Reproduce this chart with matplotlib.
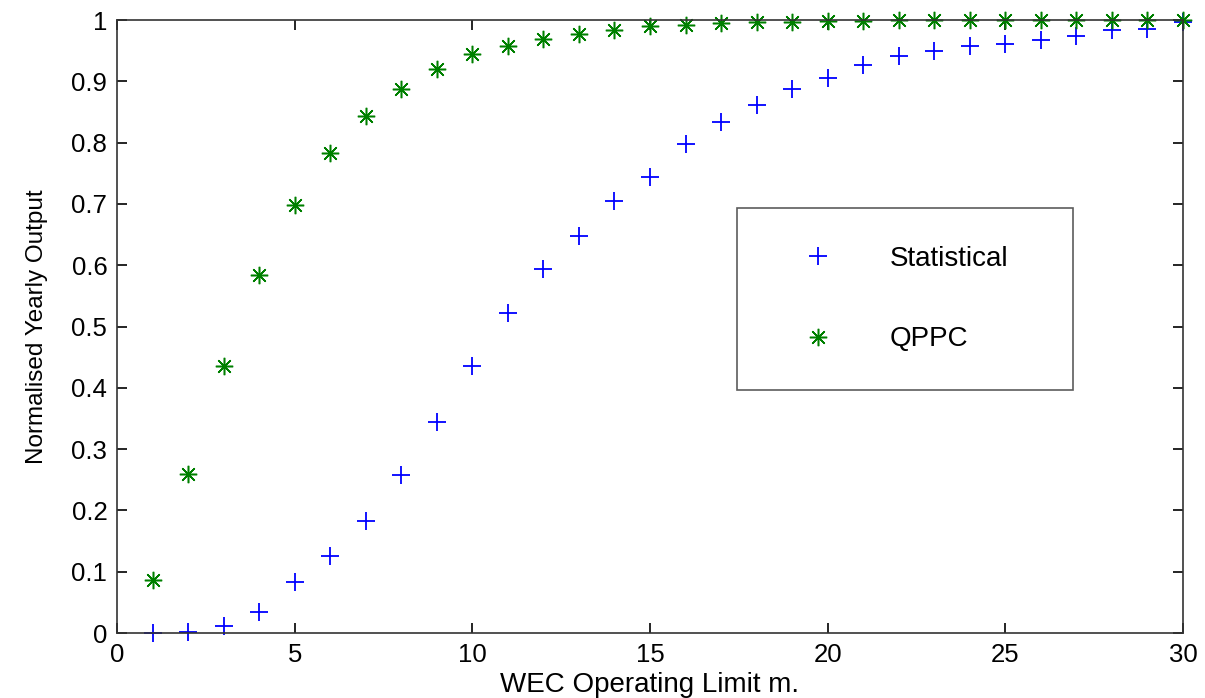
import numpy as np
import matplotlib.pyplot as plt

# WEC operating limit (m)
limit = np.arange(1, 31)

# Normalised yearly output
statistical = [0.000, 0.002, 0.011, 0.035, 0.083, 0.126, 0.183, 0.257, 0.344, 0.436,
               0.522, 0.594, 0.648, 0.704, 0.744, 0.798, 0.833, 0.862, 0.888, 0.906,
               0.926, 0.941, 0.949, 0.957, 0.961, 0.967, 0.974, 0.983, 0.985, 0.996]
qppc = [0.087, 0.259, 0.435, 0.584, 0.698, 0.783, 0.843, 0.888, 0.920, 0.944,
        0.958, 0.969, 0.978, 0.984, 0.990, 0.992, 0.995, 0.997, 0.997, 0.998,
        0.999, 1.000, 1.000, 1.000, 1.000, 1.000, 1.000, 1.000, 1.000, 1.000]

y_ticks = np.arange(0, 1.01, 0.1)
y_labels = ['0', '0.1', '0.2', '0.3', '0.4', '0.5', '0.6', '0.7', '0.8', '0.9', '1']
x_ticks = [0, 5, 10, 15, 20, 25, 30]

plt.rcParams['font.family'] = ['Liberation Sans', 'DejaVu Sans']

fig = plt.figure(figsize=(12.05, 6.98), dpi=100)
ax = fig.add_axes([0.0971, 0.0931, 0.8846, 0.8782])

ax.plot(limit, statistical, linestyle='none', marker='+', color='#0000ff',
        markersize=13, markeredgewidth=1.3, label='Statistical', clip_on=False)
ax.plot(limit, qppc, linestyle='none', marker=(8, 2, 0), color='#008000',
        markersize=12.5, markeredgewidth=1.1, label='QPPC', clip_on=False)

ax.set_xlim(0, 30)
ax.set_ylim(0, 1)
ax.set_xticks(x_ticks)
ax.set_yticks(y_ticks)
ax.set_yticklabels(y_labels)
ax.tick_params(direction='in', top=True, right=True, length=7, width=1.2,
               labelsize=18.5, pad=7)
for s in ax.spines.values():
    s.set_linewidth(1.2)
    s.set_color('#333333')

ax.set_xlabel('WEC Operating Limit m.', fontsize=20, labelpad=4)
ax.set_ylabel('Normalised Yearly Output', fontsize=17.5, labelpad=17)

leg = ax.legend(loc='upper left', bbox_to_anchor=(0.5816, 0.3915, 0.3152, 0.3018),
                mode='expand', fontsize=20, frameon=True, fancybox=False,
                borderpad=1.37, labelspacing=1.95, handletextpad=1.04,
                handlelength=3.1, borderaxespad=0)
leg.get_frame().set_edgecolor('#333333')
leg.get_frame().set_linewidth(1.2)

fig.savefig('out.png', dpi=100)
